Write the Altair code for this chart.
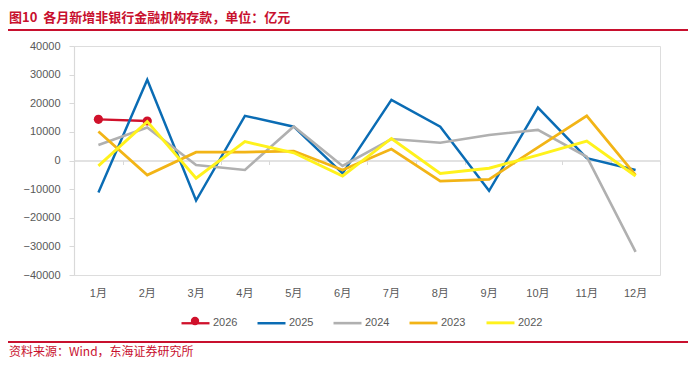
import altair as alt
import pandas as pd

months = ["1月", "2月", "3月", "4月", "5月", "6月", "7月", "8月", "9月", "10月", "11月", "12月"]
years = ["2026", "2025", "2024", "2023", "2022"]
colors = ["#d0112b", "#0a6cb4", "#b0b0b0", "#f2b416", "#fff21c"]
widths = [2.3, 2.9, 2.9, 2.9, 2.9]
v2026 = [14400, 13800]
v2025 = [-11200, 28200, -14000, 15600, 11800, -4500, 21200, 11800, -10600, 18500, 800, -3300]
v2024 = [5400, 11500, -1600, -3300, 11900, -1900, 7500, 6200, 8900, 10700, 1300, -31900]
v2023 = [10100, -5100, 2900, 2900, 3300, -3300, 4000, -7200, -6600, 4600, 15600, -5100]
v2022 = [-1900, 13600, -6200, 6600, 2700, -5400, 7700, -4500, -2700, 1900, 6800, -5400]
y_ticks = [-40000, -30000, -20000, -10000, 0, 10000, 20000, 30000, 40000]

title_text = "图10\u00a0\u00a0各月新增非银行金融机构存款，单位：亿元"
source_text = "资料来源：Wind，东海证券研究所"

series = {"2026": v2026, "2025": v2025, "2024": v2024, "2023": v2023, "2022": v2022}
rows = []
for order, yr in enumerate(years):
    for m, v in zip(months, series[yr]):
        rows.append({"month": m, "year": yr, "value": v, "order": order})
df = pd.DataFrame(rows)
df26 = df[df["year"] == "2026"].assign(dot="2026")

W, H = 586, 229
PL, PT, PR, PB = 66, 38, 28, 86
FONT = "Liberation Sans, Noto Sans CJK SC"
CJK = "Noto Sans CJK SC"
RED = "#c8102e"

xscale = alt.Scale(type="band", domain=months, paddingInner=0, paddingOuter=0)
yscale = alt.Scale(domain=[-40000, 40000], nice=False)

yenc = alt.Y("value:Q", scale=yscale,
             axis=alt.Axis(title=None, values=y_ticks, grid=False, domainColor="#d9d9d9",
                           domainWidth=1.2, tickColor="#d9d9d9", tickSize=5,
                           labelPadding=9, labelFont=FONT, labelFontSize=11,
                           labelColor="#595959", format="d"))
cenc = alt.Color("year:N", scale=alt.Scale(domain=years, range=colors),
                 legend=alt.Legend(title=None, orient="none", legendX=106, legendY=261,
                                   direction="horizontal", columns=5, symbolType="stroke",
                                   symbolSize=784, symbolStrokeWidth=2.5, columnPadding=14,
                                   labelOffset=2, labelFont=FONT, labelFontSize=11,
                                   labelColor="#595959", padding=0))

lines = alt.Chart(df).mark_line().encode(
    x=alt.X("month:N", scale=xscale, sort=months, bandPosition=0.5,
            axis=alt.Axis(title=None, orient="bottom", domain=False, ticks=False, labelAngle=0,
                          labelPadding=12, labelFont=FONT, labelFontSize=11,
                          labelColor="#595959")),
    y=yenc,
    color=cenc,
    strokeWidth=alt.StrokeWidth("year:N", scale=alt.Scale(domain=years, range=widths),
                                legend=None),
    order=alt.Order("order:Q", sort="ascending"),
    detail="year:N",
)

points = alt.Chart(df26).mark_point(filled=True, size=85, opacity=1, color=colors[0]).encode(
    x=alt.X("month:N", scale=xscale, sort=months, bandPosition=0.5,
            axis=alt.Axis(title=None, orient="bottom", labels=False, domain=True,
                          domainColor="#d9d9d9", domainWidth=1.5, ticks=True,
                          tickBand="extent", tickSize=4, tickColor="#d9d9d9",
                          offset=-H / 2)),
    y=yenc,
    shape=alt.Shape("dot:N", scale=alt.Scale(domain=["2026"], range=["circle"]),
                    legend=alt.Legend(title=None, orient="none", legendX=116, legendY=270,
                                      symbolSize=70, symbolFillColor=colors[0],
                                      symbolStrokeColor=colors[0], labelExpr="''",
                                      labelFontSize=1, padding=0)),
)

title = alt.Chart(pd.DataFrame({"t": [title_text]})).mark_text(
    align="left", baseline="middle", font=CJK, fontSize=13, fontWeight="bold", color=RED
).encode(text="t:N", x=alt.value(-PL + 1), y=alt.value(-28))

source = alt.Chart(pd.DataFrame({"t": [source_text]})).mark_text(
    align="left", baseline="middle", font=CJK, fontSize=12, color=RED
).encode(text="t:N", x=alt.value(-PL + 1), y=alt.value(306))

top_rule = alt.Chart(pd.DataFrame({"a": [0]})).mark_rule(color=RED, strokeWidth=2).encode(
    x=alt.value(-PL), x2=alt.value(W + PR), y=alt.value(-16))
bottom_rule = alt.Chart(pd.DataFrame({"a": [0]})).mark_rule(color=RED, strokeWidth=2).encode(
    x=alt.value(-PL), x2=alt.value(W + PR), y=alt.value(296))

chart = alt.layer(points, lines, title, source, top_rule, bottom_rule).resolve_axis(
    x="independent"
).resolve_scale(x="shared").properties(
    width=W, height=H, autosize=alt.AutoSizeParams(type="none"),
    padding={"left": PL, "top": PT, "right": PR, "bottom": PB}
).configure_view(strokeWidth=0).configure(background="white")

chart.save("out.html", embed_options={"renderer": "svg", "actions": False})
